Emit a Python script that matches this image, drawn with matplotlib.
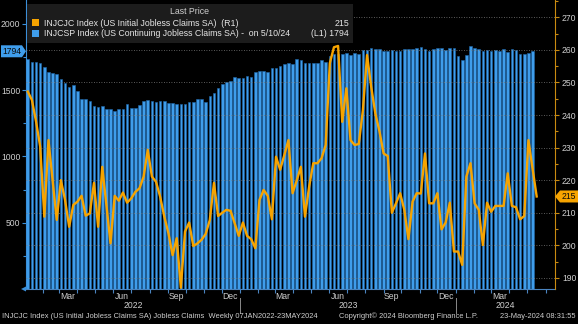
import pandas as pd
import matplotlib
matplotlib.use("Agg")
import matplotlib.pyplot as plt
import matplotlib.dates as mdates
import matplotlib.transforms as mtransforms
from matplotlib.patches import Rectangle, Polygon
from matplotlib.lines import Line2D
from matplotlib.ticker import MultipleLocator, NullFormatter, FixedLocator

# weekly initial jobless claims, SA (thousands), right axis
initial_claims = [
    247.2, 244.6, 238.0, 230.3, 208.8, 232.3, 220.0, 207.8, 220.0, 214.0,
    205.7, 212.4, 213.4, 215.2, 209.1, 209.8, 219.2, 205.7, 224.1, 212.4,
    200.6, 215.2, 213.7, 216.2, 213.1, 214.4, 216.4, 217.5, 221.1, 229.3,
    221.1, 219.5, 214.9, 208.8, 203.7, 197.0, 202.2, 187.0, 204.2, 207.0,
    199.8, 200.6, 201.7, 203.5, 207.8, 219.2, 209.0, 210.0, 210.9, 210.6,
    206.8, 202.9, 207.0, 202.9, 201.9, 199.1, 213.9, 217.0, 215.2, 208.0,
    227.2, 223.2, 227.7, 232.3, 216.0, 219.9, 224.1, 208.8, 218.0, 225.2,
    225.2, 226.7, 230.8, 255.9, 260.8, 261.2, 237.9, 248.2, 232.3, 230.8,
    231.1, 241.5, 258.4, 248.7, 240.5, 235.0, 228.2, 227.4, 210.0, 212.9,
    216.0, 210.9, 201.9, 213.4, 216.0, 215.9, 228.2, 212.9, 212.9, 216.0,
    204.9, 207.0, 213.1, 198.1, 198.1, 194.0, 221.1, 225.2, 212.9, 210.9,
    200.1, 213.1, 210.3, 212.1, 212.1, 212.1, 222.1, 212.1, 211.7, 208.0,
    209.0, 232.3, 223.6, 215.0,
]

# weekly continuing jobless claims, SA (thousands), left axis
continuing_claims = [
    1733, 1716, 1716, 1708, 1673, 1640, 1628, 1620, 1582, 1552,
    1527, 1537, 1497, 1434, 1431, 1421, 1381, 1371, 1381, 1356,
    1356, 1343, 1356, 1356, 1396, 1364, 1369, 1389, 1419, 1426,
    1421, 1414, 1421, 1419, 1401, 1406, 1396, 1396, 1396, 1414,
    1409, 1434, 1434, 1414, 1457, 1477, 1515, 1547, 1560, 1572,
    1598, 1595, 1590, 1610, 1602, 1640, 1645, 1648, 1640, 1670,
    1667, 1686, 1701, 1703, 1701, 1738, 1726, 1708, 1708, 1708,
    1708, 1728, 1716, 1758, 1774, 1770, 1774, 1784, 1766, 1779,
    1774, 1804, 1804, 1816, 1809, 1809, 1799, 1799, 1801, 1797,
    1799, 1809, 1809, 1809, 1816, 1824, 1809, 1796, 1811, 1816,
    1816, 1804, 1816, 1816, 1758, 1728, 1766, 1834, 1816, 1809,
    1799, 1804, 1799, 1804, 1799, 1809, 1791, 1809, 1804, 1774,
    1774, 1779, 1794,
]

weeks = pd.date_range("2022-01-07", periods=len(initial_claims), freq="7D")
bar_weeks = weeks[:len(continuing_claims)]

W, H = 578, 324
BG = "black"
ORANGE = "#f7a400"
ORANGE_AX = "#c98a10"
BLUE = "#3f9deb"
BLUE_AX = "#3b8fd9"
TXT = "#cfcfcf"

plt.rcParams["font.family"] = ["Liberation Sans", "DejaVu Sans"]


def fx(x):
    return x / W


def fy(y):
    return 1 - y / H


x_start, x_end = pd.Timestamp("2022-01-04"), pd.Timestamp("2024-06-17")

fig = plt.figure(figsize=(W / 100, H / 100), dpi=100, facecolor=BG)
ax = fig.add_axes([fx(26), fy(289), (555 - 26) / W, 289 / H])
ax.set_facecolor(BG)

ax.bar(bar_weeks, continuing_claims, width=4.4, color=BLUE,
       edgecolor="#2067a8", linewidth=0.4, zorder=2)
ax.set_ylim(0, 2181)
ax.set_xlim(x_start, x_end)

ax2 = ax.twinx()
ax2.plot(weeks, initial_claims, color=ORANGE, lw=1.7, solid_joinstyle="round", zorder=3)
ax2.set_ylim(186.6, 275.3)
ax2.grid(axis="y", color="#7a7a7a", linestyle=(0, (1, 2)), linewidth=0.6)
ax2.set_axisbelow(False)

# spines
for a in (ax, ax2):
    for s in a.spines.values():
        s.set_visible(False)
ax.spines["left"].set_visible(True)
ax.spines["left"].set_color(BLUE_AX)
ax.spines["bottom"].set_visible(True)
ax.spines["bottom"].set_color("#4a84c0")
ax2.spines["right"].set_visible(True)
ax2.spines["right"].set_color(ORANGE_AX)

# left axis ticks
ax.yaxis.set_minor_locator(MultipleLocator(250))
ax.set_yticks([500, 1000, 1500, 2000])
ax.tick_params(axis="y", which="both", colors=BLUE_AX, labelcolor=TXT,
               labelsize=6.2, length=3, width=0.8, pad=1)
ax.tick_params(axis="y", which="minor", length=2)

# right axis ticks
ax2.yaxis.set_minor_locator(MultipleLocator(5))
ax2.set_yticks(range(190, 271, 10))
ax2.tick_params(axis="y", which="both", colors=ORANGE_AX, labelcolor=TXT,
                labelsize=6.2, length=3, width=0.8, pad=2)
ax2.tick_params(axis="y", which="minor", length=2)

# x axis: monthly tick marks, quarter month names at mid-month
month_labels = pd.date_range("2022-03-01", "2024-03-01", freq="3MS") + pd.Timedelta(days=14)
ax.xaxis.set_major_locator(mdates.MonthLocator())
ax.xaxis.set_major_formatter(NullFormatter())
ax.xaxis.set_minor_locator(FixedLocator(mdates.date2num(month_labels)))
ax.xaxis.set_minor_formatter(mdates.DateFormatter("%b"))
ax.tick_params(axis="x", which="major", colors="#4a84c0", length=3, width=0.8)
ax.tick_params(axis="x", which="minor", length=0, labelcolor=TXT, labelsize=6.2, pad=2)

# year labels and separators under the month names
xt = mtransforms.blended_transform_factory(ax.transData, fig.transFigure)
bounds = [x_start, pd.Timestamp("2023-01-01"), pd.Timestamp("2024-01-01"), x_end]
for a0, a1, label in zip(bounds[:-1], bounds[1:], ["2022", "2023", "2024"]):
    mid = (mdates.date2num(a0) + mdates.date2num(a1)) / 2
    fig.text(mid, fy(306), label, transform=xt, ha="center",
             va="center", color=TXT, fontsize=6.2)
for xs in bounds[1:-1]:
    xn = mdates.date2num(xs)
    fig.add_artist(Line2D([xn, xn], [fy(298), fy(313)], transform=xt,
                          color="#8a8a8a", lw=0.7))

# legend panel
fig.add_artist(Rectangle((fx(27), fy(43)), (353 - 27) / W, (43 - 4) / H,
                         transform=fig.transFigure, facecolor="#1c1c1c",
                         edgecolor="none", zorder=5))
fig.text(fx(190), fy(12), "Last Price", ha="center", va="center",
         color=TXT, fontsize=6.3, zorder=6)
fig.add_artist(Rectangle((fx(32), fy(26)), 7 / W, 7 / H, transform=fig.transFigure,
                         facecolor=ORANGE, edgecolor="none", zorder=6))
fig.add_artist(Rectangle((fx(32), fy(37)), 7 / W, 7 / H, transform=fig.transFigure,
                         facecolor=BLUE, edgecolor="none", zorder=6))
fig.text(fx(44), fy(23), "INJCJC Index (US Initial Jobless Claims SA)  (R1)",
         ha="left", va="center", color="#e6e6e6", fontsize=6.3, zorder=6)
fig.text(fx(349), fy(23), f"{initial_claims[-1]:.0f}", ha="right", va="center",
         color="#e6e6e6", fontsize=6.3, zorder=6)
fig.text(fx(44), fy(34), "INJCSP Index (US Continuing Jobless Claims SA) -  on 5/10/24",
         ha="left", va="center", color="#e6e6e6", fontsize=6.3, zorder=6)
fig.text(fx(349), fy(34), f"(L1) {continuing_claims[-1]}", ha="right", va="center",
         color="#e6e6e6", fontsize=6.3, zorder=6)

# last value tags on both axes
yl = H - ax.transData.transform((0, continuing_claims[-1]))[1]
fig.add_artist(Polygon([(fx(1), fy(yl - 6)), (fx(22), fy(yl - 6)), (fx(26), fy(yl)),
                        (fx(22), fy(yl + 6)), (fx(1), fy(yl + 6))],
                       closed=True, transform=fig.transFigure, facecolor=BLUE,
                       edgecolor="none", zorder=6))
fig.text(fx(12), fy(yl), f"{continuing_claims[-1]}", ha="center", va="center",
         color="#0a0a0a", fontsize=6.2, zorder=7)

yr = H - ax2.transData.transform((0, initial_claims[-1]))[1]
fig.add_artist(Polygon([(fx(555), fy(yr)), (fx(560), fy(yr - 6)), (fx(578), fy(yr - 6)),
                        (fx(578), fy(yr + 6)), (fx(560), fy(yr + 6))],
                       closed=True, transform=fig.transFigure, facecolor=ORANGE,
                       edgecolor="none", zorder=6))
fig.text(fx(569), fy(yr), f"{initial_claims[-1]:.0f}", ha="center", va="center",
         color="#0a0a0a", fontsize=6.2, zorder=7)

# zero marker on the left axis
fig.add_artist(Polygon([(fx(21), fy(289)), (fx(26), fy(286.5)), (fx(26), fy(291.5))],
                       closed=True, transform=fig.transFigure, facecolor=BLUE_AX,
                       edgecolor="none", zorder=6))

# footer
foot = dict(va="center", color=TXT, fontsize=5.4)
fig.text(fx(2), fy(316), "INJCJC Index (US Initial Jobless Claims SA) Jobless Claims  "
         "Weekly 07JAN2022-23MAY2024", ha="left", **foot)
fig.text(fx(339), fy(316), "Copyright\u00a9 2024 Bloomberg Finance L.P.", ha="left", **foot)
fig.text(fx(576), fy(316), "23-May-2024 08:31:55", ha="right", **foot)

fig.savefig("out.png", dpi=100, facecolor=BG)
